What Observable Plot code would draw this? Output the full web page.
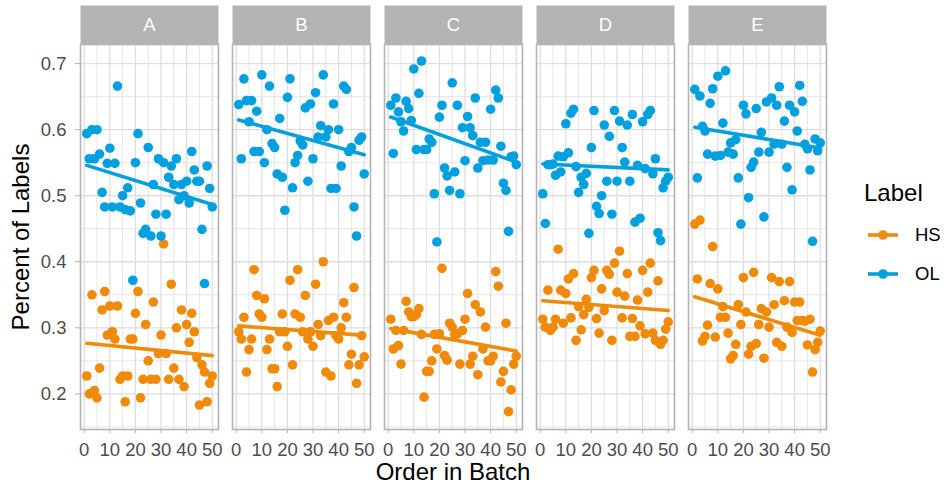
<!DOCTYPE html>
<html>
<head>
<meta charset="utf-8">
<script src="https://cdn.jsdelivr.net/npm/d3@7"></script>
<script src="https://cdn.jsdelivr.net/npm/@observablehq/plot@0.6"></script>
<style>
  html, body { margin: 0; padding: 0; background: #ffffff; }
  #wrap { position: relative; width: 944px; height: 488px; font-family: "Liberation Sans", Arial, Helvetica, sans-serif; background:#fff; }
  #wrap svg { display: block; }
  .abs { position: absolute; white-space: nowrap; line-height: 1; color: #000; }
</style>
</head>
<body>
<div id="wrap"></div>
<script>
// ---- data ----
const panels = ["A", "B", "C", "D", "E"];
const labels = ["HS", "OL"];
const colors = ["#F08A0B", "#03A0DF"];
const order = [1,2,3,4,5,6,7,8,9,10,11,12,13,14,15,16,17,18,19,20,21,22,23,24,25,26,27,28,29,30,31,32,33,34,35,36,37,38,39,40,41,42,43,44,45,46,47,48,49,50];

const A_HS = [0.227,0.200,0.350,0.205,0.194,0.239,0.327,0.355,0.289,0.333,0.294,0.283,0.333,0.222,0.227,0.188,0.227,0.283,0.283,0.322,0.355,0.194,0.222,0.305,0.250,0.222,0.339,0.222,0.261,0.289,0.427,0.261,0.222,0.366,0.239,0.300,0.222,0.327,0.211,0.305,0.278,0.322,0.294,0.255,0.183,0.244,0.233,0.188,0.216,0.227];
const A_OL = [0.594,0.556,0.600,0.556,0.600,0.563,0.505,0.483,0.549,0.572,0.483,0.549,0.666,0.483,0.500,0.479,0.512,0.477,0.372,0.550,0.594,0.489,0.443,0.449,0.573,0.439,0.517,0.472,0.556,0.439,0.550,0.472,0.528,0.545,0.517,0.556,0.494,0.517,0.500,0.522,0.489,0.567,0.539,0.522,0.522,0.449,0.367,0.545,0.511,0.483];
const B_HS = [0.294,0.283,0.316,0.233,0.267,0.283,0.388,0.349,0.321,0.316,0.344,0.267,0.283,0.238,0.238,0.211,0.294,0.321,0.294,0.272,0.372,0.244,0.321,0.388,0.316,0.294,0.349,0.283,0.294,0.272,0.366,0.305,0.288,0.400,0.233,0.311,0.227,0.316,0.288,0.283,0.300,0.338,0.316,0.244,0.260,0.361,0.216,0.244,0.288,0.256];
const B_OL = [0.638,0.556,0.677,0.644,0.612,0.644,0.567,0.628,0.567,0.683,0.550,0.600,0.666,0.579,0.573,0.533,0.617,0.528,0.478,0.649,0.677,0.512,0.550,0.561,0.583,0.577,0.633,0.522,0.639,0.556,0.656,0.589,0.606,0.683,0.589,0.600,0.511,0.639,0.511,0.600,0.545,0.666,0.661,0.567,0.573,0.483,0.439,0.584,0.589,0.533];
const C_HS = [0.313,0.268,0.296,0.273,0.245,0.296,0.340,0.324,0.317,0.317,0.320,0.329,0.290,0.195,0.234,0.234,0.250,0.290,0.268,0.291,0.390,0.258,0.251,0.307,0.301,0.290,0.291,0.245,0.296,0.313,0.352,0.245,0.257,0.335,0.229,0.324,0.268,0.301,0.250,0.250,0.257,0.385,0.363,0.218,0.234,0.307,0.173,0.206,0.245,0.257];
const C_OL = [0.637,0.564,0.648,0.627,0.612,0.598,0.643,0.632,0.614,0.692,0.570,0.655,0.704,0.570,0.570,0.586,0.581,0.503,0.430,0.619,0.637,0.542,0.530,0.508,0.671,0.536,0.637,0.503,0.603,0.553,0.620,0.603,0.591,0.648,0.542,0.581,0.553,0.581,0.554,0.631,0.554,0.660,0.648,0.575,0.519,0.508,0.446,0.559,0.560,0.547];
const D_HS = [0.313,0.301,0.357,0.296,0.301,0.313,0.419,0.357,0.307,0.352,0.374,0.315,0.382,0.281,0.332,0.297,0.320,0.343,0.331,0.376,0.387,0.314,0.292,0.359,0.326,0.387,0.381,0.281,0.398,0.354,0.416,0.315,0.348,0.382,0.287,0.314,0.287,0.342,0.303,0.387,0.291,0.354,0.398,0.292,0.281,0.371,0.275,0.281,0.298,0.309];
const D_OL = [0.503,0.458,0.547,0.547,0.548,0.531,0.560,0.536,0.559,0.609,0.565,0.625,0.631,0.544,0.505,0.528,0.517,0.534,0.443,0.573,0.629,0.484,0.473,0.500,0.607,0.522,0.590,0.472,0.629,0.522,0.613,0.573,0.551,0.607,0.522,0.623,0.460,0.546,0.466,0.612,0.541,0.623,0.629,0.533,0.556,0.444,0.432,0.512,0.522,0.528];
const E_HS = [0.457,0.374,0.463,0.280,0.287,0.304,0.367,0.423,0.286,0.359,0.316,0.332,0.316,0.292,0.253,0.258,0.275,0.335,0.305,0.376,0.324,0.260,0.272,0.384,0.276,0.305,0.329,0.254,0.324,0.301,0.376,0.335,0.278,0.370,0.272,0.341,0.301,0.370,0.293,0.339,0.311,0.339,0.311,0.310,0.274,0.313,0.233,0.267,0.278,0.295];
const E_OL = [0.661,0.527,0.651,0.605,0.598,0.563,0.640,0.662,0.560,0.681,0.561,0.610,0.689,0.566,0.580,0.563,0.585,0.527,0.457,0.637,0.624,0.497,0.543,0.551,0.632,0.566,0.596,0.468,0.642,0.566,0.648,0.578,0.637,0.665,0.578,0.613,0.543,0.637,0.509,0.627,0.598,0.667,0.643,0.578,0.571,0.539,0.431,0.586,0.568,0.580];

const xMajor = [0, 10, 20, 30, 40, 50];
const xMinor = [5, 15, 25, 35, 45];
const yMajor = [0.2, 0.3, 0.4, 0.5, 0.6, 0.7];
const yMinor = [0.15, 0.25, 0.35, 0.45, 0.55, 0.65];

// ---- table ----
const series = {
  A: {HS: A_HS, OL: A_OL}, B: {HS: B_HS, OL: B_OL}, C: {HS: C_HS, OL: C_OL},
  D: {HS: D_HS, OL: D_OL}, E: {HS: E_HS, OL: E_OL}
};
const rows = [];
for (const p of panels) for (const l of labels) {
  series[p][l].forEach((v, i) => rows.push({panel: p, label: l, order: order[i], value: v}));
}

const W = 944, H = 488, mT = 44, mB = 59, mL = 78, mR = 116;
const panelH = H - mT - mB;
const gridCol = "#DEDEDE", borderCol = "#B3B3B3", textCol = "#4D4D4D";
const dotR = 4.8, lineW = 3.6;

const chart = Plot.plot({
  width: W, height: H,
  marginTop: mT, marginBottom: mB, marginLeft: mL, marginRight: mR,
  style: {fontFamily: '"Liberation Sans", Arial, Helvetica, sans-serif', background: "#ffffff", color: textCol},
  fx: {domain: panels, axis: null, paddingInner: 0.09, paddingOuter: 0},
  x: {domain: [-1.45, 52.45]},
  y: {domain: [0.146, 0.729]},
  color: {domain: labels, range: colors},
  marks: [
    Plot.frame({fill: borderCol, stroke: null, insetTop: -39, insetBottom: panelH}),
    Plot.text(panels, {fx: d => d, text: d => d, frameAnchor: "top", dy: -19.5, fill: "#ffffff", fontSize: 18.5, lineAnchor: "middle"}),
    Plot.gridY(yMinor, {stroke: gridCol, strokeOpacity: 1, strokeWidth: 0.8}),
    Plot.gridX(xMinor, {stroke: gridCol, strokeOpacity: 1, strokeWidth: 0.8}),
    Plot.gridY(yMajor, {stroke: gridCol, strokeOpacity: 1, strokeWidth: 1.3}),
    Plot.gridX(xMajor, {stroke: gridCol, strokeOpacity: 1, strokeWidth: 1.3}),
    Plot.dot(rows, {fx: "panel", x: "order", y: "value", fill: "label", r: dotR, stroke: null}),
    Plot.linearRegressionY(rows, {fx: "panel", x: "order", y: "value", stroke: "label", ci: 0, strokeWidth: lineW}),
    Plot.frame({stroke: borderCol, strokeWidth: 1.6}),
    Plot.axisX({ticks: xMajor, tickSize: 4, tickPadding: 9, fontSize: 18.5, fill: textCol, stroke: borderCol, label: null}),
    Plot.axisY({ticks: yMajor, tickFormat: d => d.toFixed(1), tickSize: 5, tickPadding: 9, fontSize: 18.5, fill: textCol, stroke: borderCol, label: null})
  ]
});

const wrap = document.getElementById("wrap");
wrap.appendChild(chart);

function addText(txt, css) {
  const d = document.createElement("div");
  d.className = "abs";
  d.textContent = txt;
  Object.assign(d.style, css);
  wrap.appendChild(d);
  return d;
}
// axis titles
addText("Order in Batch", {left: (mL + (W - mR)) / 2 + "px", top: "460px", fontSize: "24px", transform: "translateX(-50%)"});
addText("Percent of Labels", {left: "21px", top: (mT + panelH / 2) + "px", fontSize: "24px", transform: "translate(-50%,-50%) rotate(-90deg)"});

// legend
addText("Label", {left: "864px", top: "181px", fontSize: "24px"});
labels.forEach((l, i) => {
  const cy = 235 + i * 39;
  const svgNS = "http://www.w3.org/2000/svg";
  const s = document.createElementNS(svgNS, "svg");
  s.setAttribute("width", 34); s.setAttribute("height", 14);
  s.style.position = "absolute"; s.style.left = "866px"; s.style.top = (cy - 7) + "px";
  const ln = document.createElementNS(svgNS, "line");
  ln.setAttribute("x1", 2); ln.setAttribute("x2", 32); ln.setAttribute("y1", 7); ln.setAttribute("y2", 7);
  ln.setAttribute("stroke", colors[i]); ln.setAttribute("stroke-width", lineW);
  const c = document.createElementNS(svgNS, "circle");
  c.setAttribute("cx", 17); c.setAttribute("cy", 7); c.setAttribute("r", dotR); c.setAttribute("fill", colors[i]);
  s.appendChild(ln); s.appendChild(c);
  wrap.appendChild(s);
  addText(l, {left: "915px", top: (cy - 9) + "px", fontSize: "18.5px"});
});
</script>
</body>
</html>
